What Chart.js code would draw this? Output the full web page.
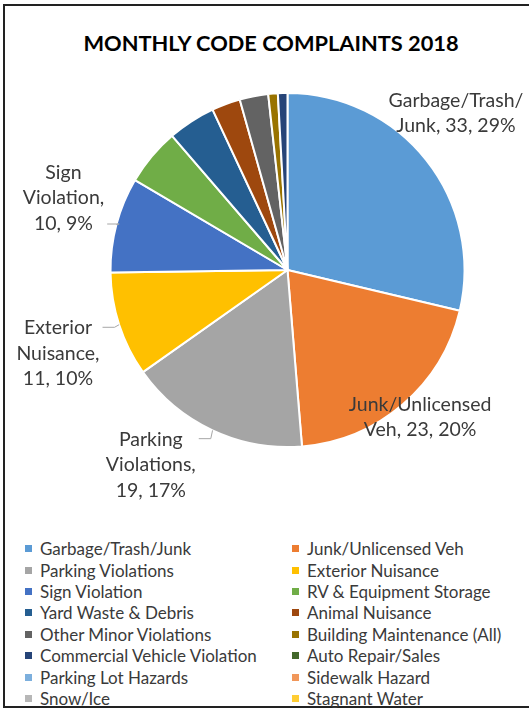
<!DOCTYPE html>
<html>
<head>
<meta charset="utf-8">
<script src="https://cdn.jsdelivr.net/npm/chart.js@4/dist/chart.umd.min.js"></script>
<style>
  body { margin: 0; width: 529px; height: 710px; overflow: hidden; background: #fff; font-family: Lato, sans-serif; }
  #frame { position: absolute; left: 3px; top: 4px; width: 532px; height: 700px; border: 2px solid #222; }
  #title { position: absolute; left: 4px; width: 534px; top: 29px; text-align: center; font: bold 21.8px Lato; color: #000; }
  #pieWrap { position: absolute; left: 0; top: 0; width: 529px; height: 530px; }
  #legend { position: absolute; left: 25px; top: 538px; display: grid; grid-template-columns: 267px 230px; }
  .item { display: flex; align-items: center; height: 21.4px; font-size: 17px; color: #3a3a3a; white-space: nowrap; }
  .box { width: 7px; height: 7px; margin-right: 8px; flex: none; }
</style>
</head>
<body>
<div id="frame"></div>
<div id="title">MONTHLY CODE COMPLAINTS 2018</div>
<div id="pieWrap"><canvas id="pie"></canvas></div>
<div id="legend"></div>
<script>
const categories = [
  "Garbage/Trash/Junk",
  "Junk/Unlicensed Veh",
  "Parking Violations",
  "Exterior Nuisance",
  "Sign Violation",
  "RV & Equipment Storage",
  "Yard Waste & Debris",
  "Animal Nuisance",
  "Other Minor Violations",
  "Building Maintenance (All)",
  "Commercial Vehicle Violation",
  "Auto Repair/Sales",
  "Parking Lot Hazards",
  "Sidewalk Hazard",
  "Snow/Ice",
  "Stagnant Water",
];
const complaints = [33, 23, 19, 11, 10, 6, 5, 3, 3, 1, 1, 0, 0, 0, 0, 0];
const sliceColors = [
  "#5B9BD5", "#ED7D31", "#A5A5A5", "#FFC000", "#4472C4", "#70AD47",
  "#255E91", "#9E480E", "#636363", "#997300", "#264478", "#43682B",
  "#7CAFDD", "#F1975A", "#B7B7B7", "#FFCD33",
];

// wrap text at spaces and slashes
function wrapText(ctx, text, maxWidth) {
  const tokens = text.split(/(?<=[\/ ])/);
  const lines = [];
  let line = "";
  tokens.forEach((tok) => {
    const test = line + tok;
    if (line && ctx.measureText(test.trim()).width > maxWidth) {
      lines.push(line.trim());
      line = tok;
    } else {
      line = test;
    }
  });
  if (line) lines.push(line.trim());
  return lines;
}

const sliceLabels = {
  id: "sliceLabels",
  afterDatasetsDraw(chart, args, opts) {
    const ctx = chart.ctx;
    const meta = chart.getDatasetMeta(0);
    const total = complaints.reduce((a, b) => a + b, 0);
    ctx.save();
    ctx.font = opts.font;
    ctx.textAlign = "center";
    ctx.textBaseline = "middle";
    opts.items.forEach((item, i) => {
      const arc = meta.data[i];
      const p = arc.getProps(["x", "y", "startAngle", "endAngle", "outerRadius"], true);
      const mid = (p.startAngle + p.endAngle) / 2;
      const a = mid + (item.shift * Math.PI) / 180;
      const r = p.outerRadius * item.radius;
      const cx = p.x + Math.cos(a) * r;
      const cy = p.y + Math.sin(a) * r;
      const pct = Math.round((complaints[i] / total) * 100);
      const text = categories[i] + ", " + complaints[i] + ", " + pct + "%";
      const lines = wrapText(ctx, text, item.wrap);
      const lh = opts.lineHeight;
      const top = cy - (lh * lines.length) / 2;
      ctx.fillStyle = opts.color;
      lines.forEach((l, k) => ctx.fillText(l, cx, top + lh * (k + 0.5)));
      if (item.leader) {
        const w = Math.max(...lines.map((l) => ctx.measureText(l).width));
        const px = p.x + Math.cos(mid) * p.outerRadius;
        const py = p.y + Math.sin(mid) * p.outerRadius;
        const ex = cx + w / 2 + 3;
        const ey = Math.min(Math.max(py, top + 12), top + lh * lines.length - 12);
        ctx.strokeStyle = "#A6A6A6";
        ctx.lineWidth = 1;
        ctx.beginPath();
        ctx.moveTo(ex, ey);
        ctx.lineTo(ex + 12, ey);
        ctx.lineTo(px, py);
        ctx.stroke();
      }
    });
    ctx.restore();
  },
};

const ctx = document.getElementById("pie").getContext("2d");
const pieChart = new Chart(ctx, {
  type: "pie",
  data: {
    labels: categories,
    datasets: [
      {
        data: complaints,
        backgroundColor: sliceColors,
        borderColor: "#FFFFFF",
        borderWidth: 2,
      },
    ],
  },
  options: {
    responsive: true,
    maintainAspectRatio: false,
    animation: false,
    devicePixelRatio: 1,
    layout: { padding: { left: 109, right: 63, top: 92, bottom: 82 } },
    plugins: {
      legend: { display: false },
      tooltip: { enabled: false },
      sliceLabels: {
        font: "19.5px Lato",
        color: "#3a3a3a",
        lineHeight: 25.5,
        items: [
          { radius: 1.3, shift: -4.6, wrap: 150, leader: false },
          { radius: 1.12, shift: -1.3, wrap: 155, leader: false },
          { radius: 1.345, shift: 10, wrap: 100, leader: true },
          { radius: 1.38, shift: -2, wrap: 100, leader: true },
          { radius: 1.33, shift: 3, wrap: 100, leader: true },
        ],
      },
    },
  },
  plugins: [sliceLabels],
});

// two-column legend built from the chart's own legend items
const legendEl = document.getElementById("legend");
pieChart.options.plugins.legend.labels
  .generateLabels(pieChart)
  .forEach((li) => {
    const div = document.createElement("div");
    div.className = "item";
    div.innerHTML = '<span class="box" style="background:' + li.fillStyle + '"></span>' + li.text;
    legendEl.appendChild(div);
  });
</script>
</body>
</html>
